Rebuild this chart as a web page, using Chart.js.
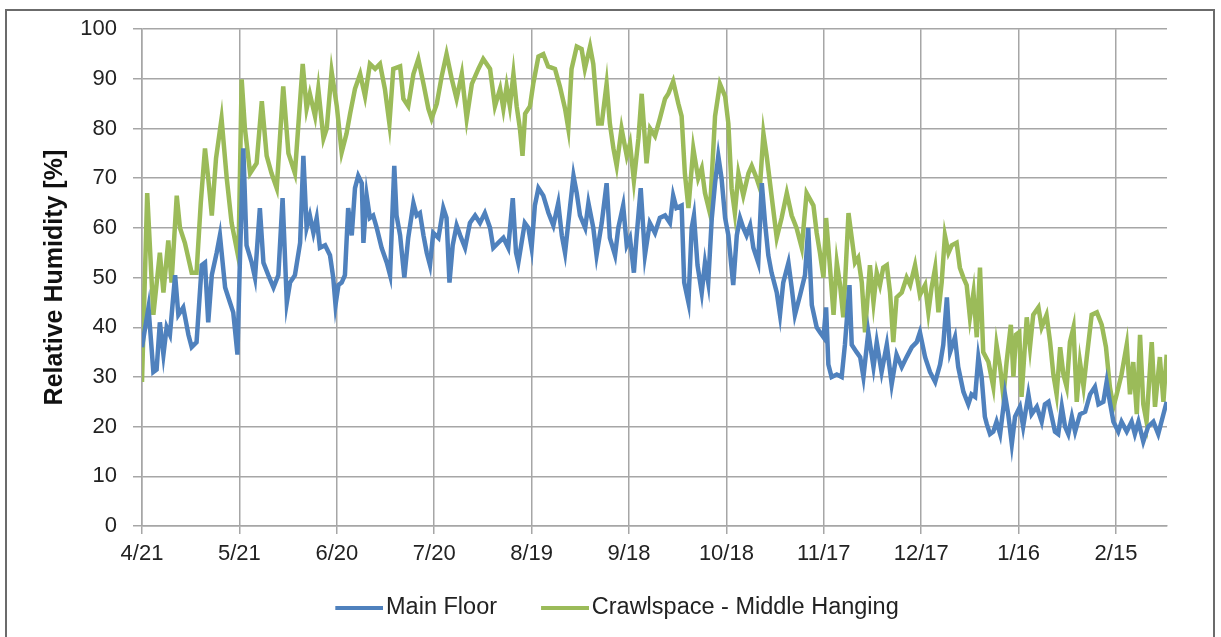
<!DOCTYPE html>
<html>
<head>
<meta charset="utf-8">
<title>Relative Humidity</title>
<script src="https://cdn.jsdelivr.net/npm/chart.js@4.4.0/dist/chart.umd.min.js"></script>
<style>
  html, body { margin: 0; padding: 0; background: #fff; }
  #wrap { position: relative; width: 1221px; height: 637px; overflow: hidden; }
  #frame { position: absolute; left: 5px; top: 9px; width: 1206px; height: 700px; border: 2px solid #6b6b6b; pointer-events: none; }
</style>
</head>
<body>
<div id="wrap">
  <canvas id="rhChart" width="1221" height="637"></canvas>
  <div id="frame"></div>
</div>
<script>
// days counted from 4/21
const tickDays = [0, 30, 60, 90, 120, 150, 180, 210, 240, 270, 300];
const tickLabels = ["4/21", "5/21", "6/20", "7/20", "8/19", "9/18", "10/18", "11/17", "12/17", "1/16", "2/15"];

const mainFloorDays = [0, 2, 3.5, 4.5, 5.5, 6.6, 7.6, 8.6, 10.2, 11.2, 12.7, 14.3, 15.3, 16.8, 18.4, 19.4, 20.4, 21.5, 23, 24, 25.6, 27.1, 28.1, 29.4, 30.2, 31.2, 32.2, 33.8, 34.8, 36.3, 37.4, 38.9, 40.5, 42, 43.3, 44.6, 45.6, 47.1, 48.7, 49.7, 50.7, 51.7, 52.8, 53.8, 54.8, 56.4, 57.9, 58.9, 59.6, 60.5, 61.5, 62.5, 63.5, 64.6, 65.6, 66.6, 67.7, 68.2, 69.2, 70.2, 71.2, 72.3, 73.8, 75.4, 76.4, 77.7, 78.4, 79.5, 80.8, 82, 83.6, 84.6, 85.6, 86.7, 87.7, 88.7, 89.7, 91.3, 92.8, 93.8, 94.7, 95.7, 96.9, 98, 99.5, 101, 102.6, 104.1, 105.6, 107.2, 108.2, 109.7, 111.3, 112.8, 114.2, 115.2, 115.9, 116.9, 117.9, 119, 120, 121, 122.1, 123.6, 125.2, 126.7, 128.2, 129.3, 130.3, 131.8, 132.9, 133.9, 134.9, 136.5, 137.5, 139, 140, 141.6, 143.1, 144.1, 145.7, 146.7, 148.2, 149.3, 150.3, 151.5, 152.3, 153.6, 154.9, 156.4, 158, 159.5, 161.1, 162.6, 163.6, 164.6, 166.2, 167, 168.3, 169.3, 170, 171.1, 172.4, 173.4, 174.4, 175.5, 176.5, 177.5, 178.5, 179.6, 180.6, 182.1, 183.2, 184.2, 185.2, 186.2, 187.3, 188.3, 189.8, 190.9, 191.9, 192.9, 193.9, 195.5, 196.5, 197.5, 199.1, 200.1, 201.1, 202.7, 204.2, 205.2, 206.3, 207.8, 208.8, 209.9, 210.7, 211.4, 212.4, 214, 215.5, 216.5, 217.9, 218.6, 220.1, 221.2, 222.2, 223.7, 225.3, 226.3, 227.8, 229.4, 230.9, 232.4, 234, 235.5, 237.1, 238.6, 239.6, 241.2, 242.7, 244.3, 245.8, 246.8, 247.9, 248.9, 250.4, 251.4, 253, 254.5, 255.5, 256.6, 257.6, 258.6, 259.6, 260.2, 261.2, 262.2, 263.2, 264.3, 265.8, 266.8, 267.9, 268.9, 270.4, 271.4, 273, 274, 275.6, 277.1, 278.1, 279.2, 280.2, 281.2, 282.2, 283.3, 284.3, 285.3, 286.4, 287.4, 288.9, 290.5, 292, 293.5, 294.6, 296.1, 297.1, 298.1, 299.2, 300.7, 301.7, 303.3, 304.8, 305.8, 306.9, 308.4, 309.9, 311.5, 313, 314.6, 315.6];
const mainFloorRH = [36, 44, 31, 31.5, 41, 34.5, 40, 38.5, 50.5, 42.5, 44, 38.5, 36, 37, 52.5, 53, 41, 50.5, 55, 58.5, 48, 45, 43, 34.5, 54.5, 76, 56.5, 53, 50, 64, 53, 50.5, 48, 50.5, 66, 45, 49, 50.5, 57, 74.5, 60, 62.5, 59, 62, 56, 56.5, 54.5, 50, 44.5, 48.5, 49, 50.5, 64, 58.5, 68, 70.5, 69, 57, 66.5, 62, 62.5, 60, 56, 53, 50.5, 72.5, 62.5, 58.5, 50, 58, 65, 62.5, 63, 58.5, 55, 52.5, 59, 58, 64, 62, 49, 56.5, 60.5, 58.5, 56, 61, 62.5, 61, 63, 60, 56, 57, 58, 56, 66, 55, 53, 57, 61, 60, 56, 64.5, 68, 66.5, 63, 60.5, 65, 58.5, 55, 64, 70.5, 67, 62.5, 60, 65, 60, 54.5, 61, 69, 58, 54.5, 60, 64.5, 56.5, 58, 51, 58, 68, 54.5, 61, 59, 62, 62.5, 61, 66.5, 64, 64.5, 49, 45, 60, 62.5, 52.5, 47, 53, 49, 62, 69, 74.5, 70, 62, 58.5, 48.5, 58.5, 62, 60, 58.5, 60.5, 56, 53, 69, 61, 54.5, 51, 47, 42.5, 49, 53, 48, 42.5, 46.5, 50.5, 60, 44.5, 40, 39, 38, 44, 32.5, 30, 30.5, 30, 36.5, 48.5, 36.5, 35, 34, 30, 39, 32, 37, 31, 36.5, 28.5, 34.5, 32, 34, 36, 37, 39, 34, 31, 29, 32.5, 36.5, 46, 35, 38, 32, 27, 24.5, 26.5, 26, 34, 30, 22, 20.5, 18.5, 19, 21, 18.5, 26.5, 22.5, 16.5, 22, 24, 20, 26.5, 22.5, 24, 21, 24.5, 25, 22, 19, 18.5, 24, 20, 18.5, 22, 19, 22.5, 23, 26.5, 28, 24.5, 25, 29, 25, 21, 19, 21, 19, 21, 18.5, 21, 17, 20, 21, 18.5, 22.5, 25];

const crawlDays = [0, 1.6, 3.5, 5.5, 6.6, 8.1, 9.1, 10.7, 11.7, 13.2, 15.3, 16.8, 18.1, 19.4, 20.4, 21.5, 22.8, 24.5, 26.1, 27.6, 29.7, 30.7, 31.7, 33.3, 35.3, 36.9, 38.4, 39.9, 41.5, 43.5, 45.1, 47.1, 49.5, 50.7, 51.7, 53.3, 54.3, 55.9, 56.9, 58.4, 60, 61.5, 63, 64.1, 65.6, 67.2, 68.7, 70.2, 71.8, 73.3, 74.8, 76.2, 77.4, 79.5, 80.5, 82, 83.6, 85.1, 86.7, 88.2, 89.2, 90.8, 92.3, 93.8, 95.4, 96.9, 98.5, 100, 101.6, 103.6, 105.1, 107.2, 108.7, 110.3, 111.3, 112.3, 113.3, 114.4, 115.4, 116.4, 117.2, 118, 119.5, 120.5, 122.1, 123.6, 125.1, 127.2, 128.7, 130.3, 131.3, 132.3, 133.9, 135.4, 136.4, 138, 139, 140.5, 141.6, 143.1, 144.1, 145.2, 146.2, 147.7, 149.3, 150.3, 151.5, 152.9, 153.9, 155.4, 156.5, 158, 159.5, 161.1, 162.1, 163.6, 165.2, 166.2, 167.2, 168.3, 169.8, 171.3, 172.4, 173.4, 174.9, 176.5, 178, 179.6, 180.6, 181.6, 182.6, 183.7, 185.2, 186.8, 187.8, 189.3, 190.3, 191.4, 192.4, 193.9, 195.5, 197, 198.6, 200.1, 201.6, 203.2, 204.7, 206.8, 207.8, 208.8, 209.9, 210.7, 211.9, 213, 214, 215, 216, 217.6, 218.6, 219.6, 220.6, 221.7, 222.7, 224.2, 225.3, 226.3, 227.3, 228.3, 229.4, 230.4, 231.4, 232.4, 234, 235.5, 236.6, 238.1, 239.6, 241.2, 242.2, 243.2, 244.3, 245.3, 246.3, 247.3, 248.4, 249.4, 250.9, 251.9, 253, 254, 255, 256.1, 257.1, 258.1, 259.1, 260.7, 262.2, 263.2, 264.3, 265.3, 266.3, 267.6, 268.4, 269.2, 270.2, 270.9, 272.5, 273.5, 274.5, 276.1, 277.1, 278.6, 279.7, 280.7, 281.7, 282.8, 283.8, 284.8, 285.8, 286.9, 287.9, 288.9, 290, 291, 292.5, 294.1, 295.6, 296.9, 298.1, 299.2, 300.2, 301.7, 303.3, 304.3, 305.3, 306.4, 307.4, 308.4, 309.4, 311, 312, 313.5, 314.6, 315.6];
const crawlRH = [29, 67, 42.5, 55, 47, 57.5, 49, 66.5, 60, 57, 51, 51, 65, 76, 70, 62.5, 74, 82, 70, 61, 54, 89.9, 80, 71, 73, 85.5, 74.5, 71, 68, 88.5, 75, 71, 93, 84, 87, 82.5, 88, 78, 80, 91.5, 84.5, 75.2, 79, 83, 88, 91, 86.5, 93, 92, 93, 88, 81, 92, 92.5, 86, 84.5, 91, 94, 89, 84, 82, 85, 90.5, 95, 90, 86, 91, 82, 89, 92, 94, 92, 84.5, 88, 84, 88.5, 84.5, 91, 84.5, 80, 74.5, 83, 84.5, 89, 94.5, 95, 92.5, 92, 88.5, 84, 80, 92, 96.5, 96, 92, 96.5, 93, 81, 81, 89, 81, 76, 72.5, 80, 74.5, 77, 69.5, 78, 87, 73, 80, 78.5, 82, 86, 87, 89.5, 85, 82.5, 71, 64, 76, 70, 72, 67, 63, 82.5, 89, 86.5, 81, 68, 63, 71, 66.5, 71, 72.5, 70, 68, 79, 74.5, 66.5, 58, 62, 67, 62.5, 60, 56, 67, 64.5, 59, 55, 50, 62, 52, 42.5, 53, 48.5, 42, 63, 58, 53, 54, 49, 39, 52.5, 45, 51, 48.5, 52, 52.5, 47, 37, 46, 47, 50, 48.5, 52.5, 46.5, 48.5, 43, 48, 52, 43, 49, 58.5, 55, 56.5, 57, 52, 50, 48.5, 42, 47, 38, 52, 35, 33, 28, 36.5, 32, 26, 33, 40.5, 30, 38.5, 39, 26, 42, 36, 42.5, 44, 40, 42.5, 37, 30.5, 26.5, 36, 30.5, 28, 37, 40, 25, 33, 28, 34, 42.5, 43, 40.5, 36, 28, 24, 26.5, 30.5, 36.5, 26.5, 33, 22.5, 38.5, 24.5, 21, 37, 24, 34, 25, 34.5];

const BLUE = "#4f81bd";
const GREEN = "#9bbb59";
const GRID = "#a6a6a6";
const FONT = "'Liberation Sans', Arial, sans-serif";
const LEGEND_SHIFT = 24;

// thick legend key; the transparent left part widens the gap before each entry
function legendSwatch(color) {
  const c = document.createElement("canvas");
  c.width = 76;
  c.height = 4;
  const g = c.getContext("2d");
  g.fillStyle = color;
  g.fillRect(28, 0, 48, 4);
  return c;
}

const toPoints = (xs, ys) => xs.map((x, i) => ({ x: x, y: ys[i] }));

const legendNudge = {
  id: "legendNudge",
  afterLayout(chart) {
    chart.legend.left += LEGEND_SHIFT;
    chart.legend.right += LEGEND_SHIFT;
  },
};

function makeSeries(label, days, values, color) {
  return {
    label: label,
    data: toPoints(days, values),
    borderColor: color,
    backgroundColor: color,
    borderWidth: 4.5,
    pointRadius: 0,
    pointStyle: legendSwatch(color),
    tension: 0,
    fill: false,
  };
}

new Chart(document.getElementById("rhChart"), {
  type: "line",
  data: {
    datasets: [
      makeSeries("Main Floor", mainFloorDays, mainFloorRH, BLUE),
      makeSeries("Crawlspace - Middle Hanging", crawlDays, crawlRH, GREEN),
    ],
  },
  options: {
    responsive: false,
    animation: false,
    devicePixelRatio: 1,
    layout: { padding: { left: 0, right: 54, top: 25, bottom: 7.5 } },
    plugins: {
      legend: {
        position: "bottom",
        labels: {
          usePointStyle: true,
          pointStyleWidth: 58,
          padding: 25,
          color: "#222",
          font: { family: FONT, size: 23.5 },
        },
      },
      tooltip: { enabled: false },
    },
    scales: {
      x: {
        type: "linear",
        min: 0,
        max: 315.7,
        afterBuildTicks: (s) => {
          s.ticks = tickDays.map((v) => ({ value: v }));
        },
        afterFit: (s) => {
          s.height = 45;
        },
        ticks: {
          callback: (v) => tickLabels[tickDays.indexOf(v)] || "",
          padding: 7,
          maxRotation: 0,
          autoSkip: false,
          color: "#222",
          font: { family: FONT, size: 22 },
        },
        grid: { color: GRID, lineWidth: 1.5, tickLength: 8 },
        border: { color: GRID, width: 1.5 },
      },
      y: {
        min: 0,
        max: 100,
        afterFit: (s) => {
          s.width = 142;
        },
        ticks: {
          stepSize: 10,
          padding: 16,
          color: "#222",
          font: { family: FONT, size: 22 },
        },
        grid: { color: GRID, lineWidth: 1.5, tickLength: 9 },
        border: { color: GRID, width: 1.5 },
        title: {
          display: true,
          text: "Relative Humidity [%]",
          color: "#111",
          font: { family: FONT, size: 25, weight: "bold" },
          padding: { top: 40, bottom: 0 },
        },
      },
    },
  },
  plugins: [legendNudge],
});
</script>
</body>
</html>
